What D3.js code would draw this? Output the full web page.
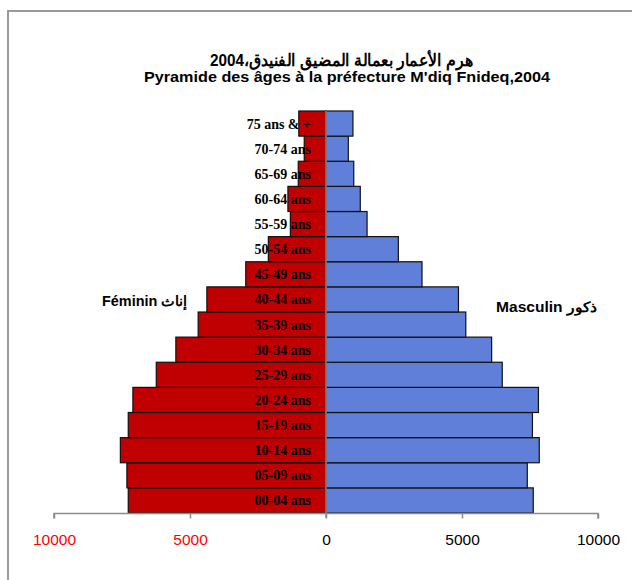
<!DOCTYPE html>
<html><head><meta charset="utf-8">
<script src="https://cdn.jsdelivr.net/npm/d3@7"></script>
<style>body{margin:0;background:#fff}svg{display:block}</style>
</head><body>
<svg id="c" width="632" height="580"></svg>
<script>
const ageGroups = ["00-04 ans","05-09 ans","10-14 ans","15-19 ans","20-24 ans","25-29 ans","30-34 ans","35-39 ans","40-44 ans","45-49 ans","50-54 ans","55-59 ans","60-64 ans","65-69 ans","70-74 ans","75 ans & +"];
const feminin = [7270,7320,7560,7270,7100,6240,5520,4700,4380,2950,2120,1310,1400,1020,800,1000];
const masculin = [7620,7400,7840,7590,7810,6480,6090,5140,4870,3530,2660,1510,1260,1020,820,990];
const tickValues = [-10000,-5000,0,5000,10000];
const titleLines = ["هرم الأعمار بعمالة المضيق الفنيدق،2004","Pyramide des âges à la préfecture M'diq Fnideq,2004"];
const femLabel = "Féminin إناث";
const mascLabel = "Masculin  ذكور";

const svg = d3.select("#c");
// outer frame
svg.append("rect").attr("x",8).attr("y",11).attr("width",700).attr("height",700)
  .attr("fill","none").attr("stroke","#9a9a9a").attr("stroke-width",2);

const x = d3.scaleLinear().domain([-10000,10000]).range([54,598]);
const y = d3.scaleBand().domain(ageGroups).range([513,111]).padding(0);

const data = ageGroups.map((g,i)=>({g,f:feminin[i],m:masculin[i]}));

svg.append("g").selectAll("rect").data(data).join("rect")
  .attr("x",d=>x(-d.f)).attr("y",d=>y(d.g)).attr("width",d=>x(0)-x(-d.f)).attr("height",y.bandwidth())
  .attr("fill","#c00000").attr("stroke","#111").attr("stroke-width",1.2);
svg.append("g").selectAll("rect").data(data).join("rect")
  .attr("x",x(0)).attr("y",d=>y(d.g)).attr("width",d=>x(d.m)-x(0)).attr("height",y.bandwidth())
  .attr("fill","#5f7fd8").attr("stroke","#111").attr("stroke-width",1.2);

// zero line
svg.append("line").attr("x1",x(0)).attr("x2",x(0)).attr("y1",111).attr("y2",518)
  .attr("stroke","#8a8a8a").attr("stroke-width",1.5);

// x axis
const ax = svg.append("g").attr("transform","translate(0,513.5)")
  .call(d3.axisBottom(x).tickValues(tickValues).tickSize(5).tickFormat(d=>Math.abs(d)));
ax.select(".domain").attr("stroke","#8a8a8a").attr("stroke-width",1.5).attr("d",`M${x(-10000)},5V0H${x(10000)}V5`);
ax.selectAll(".tick line").attr("stroke","#8a8a8a").attr("stroke-width",1.5);
ax.selectAll(".tick text").attr("y",20).attr("dy","0.71em")
  .style("font-family","'Liberation Sans', Arial, sans-serif").style("font-size","15.5px")
  .attr("fill",d=>d<0?"#ff0000":"#000");

// category labels
svg.append("g").selectAll("text").data(ageGroups).join("text")
  .attr("x",311).attr("y",d=>y(d)+y.bandwidth()/2).attr("dy","0.36em")
  .attr("text-anchor","end")
  .style("font-family","'Liberation Serif','Times New Roman',serif").style("font-weight","bold").style("font-size","14px")
  .attr("fill","#000").text(d=>d);

// side labels
svg.append("text").attr("x",102).attr("y",301).attr("dy","0.35em")
  .attr("textLength",85).attr("lengthAdjust","spacingAndGlyphs")
  .style("font-family","'Liberation Sans', Arial, sans-serif").style("font-weight","bold").style("font-size","14px")
  .text(femLabel);
svg.append("text").attr("x",496).attr("y",307).attr("dy","0.35em")
  .attr("textLength",101).attr("lengthAdjust","spacingAndGlyphs")
  .style("font-family","'Liberation Sans', Arial, sans-serif").style("font-weight","bold").style("font-size","14px")
  .text(mascLabel);

// title
svg.append("text").attr("x",210).attr("y",66)
  .attr("textLength",263).attr("lengthAdjust","spacingAndGlyphs")
  .style("font-family","'Liberation Sans', Arial, sans-serif").style("font-weight","bold").style("font-size","16.5px")
  .text(titleLines[0]);
svg.append("text").attr("x",144).attr("y",82)
  .attr("textLength",406).attr("lengthAdjust","spacingAndGlyphs")
  .style("font-family","'Liberation Sans', Arial, sans-serif").style("font-weight","bold").style("font-size","14.5px")
  .text(titleLines[1]);
</script>
</body></html>
